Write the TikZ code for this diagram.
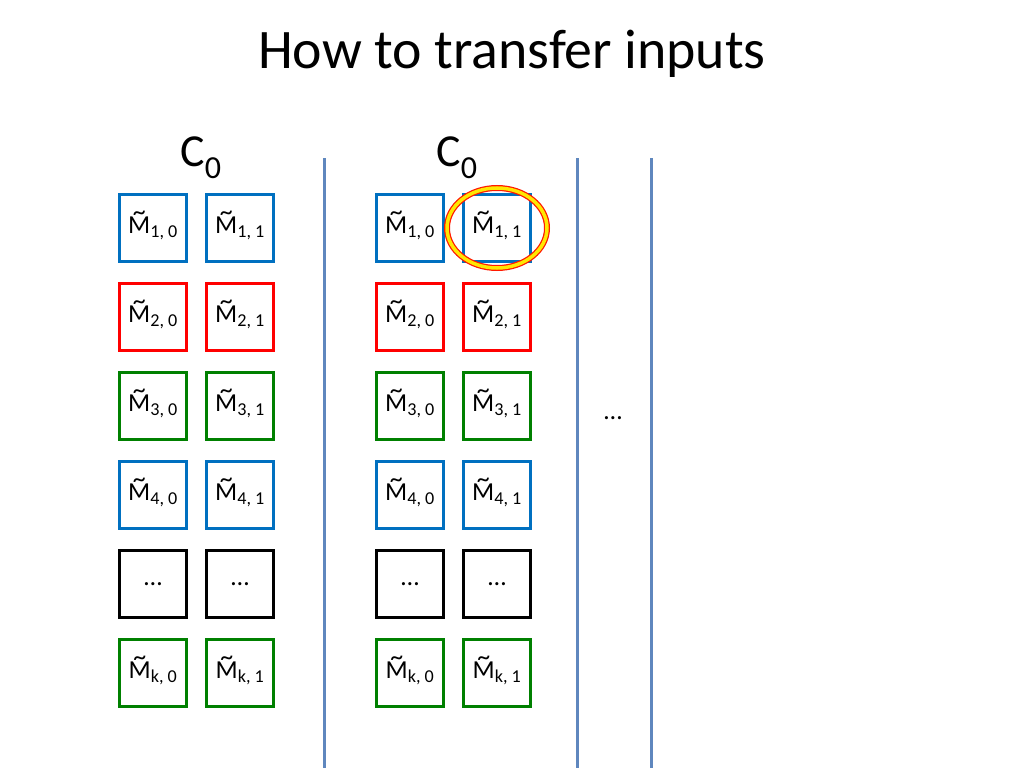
\documentclass[tikz,border=0pt]{standalone}
\usepackage{fontspec}
\setmainfont{Carlito}
\usepackage{xcolor}
\definecolor{boxblue}{RGB}{0,112,192}
\definecolor{boxgreen}{RGB}{0,128,0}
\definecolor{sepblue}{RGB}{95,135,190}
\newcommand{\tildeM}{\ooalign{M\cr\hidewidth\raisebox{0.5em}{\string~}\hidewidth}}
\newcommand{\mlab}[2]{\tildeM\textsubscript{#1, #2}}
\tikzset{
	mbox/.style  = {shape=rectangle, draw, line width=2.2bp,
		minimum size=67bp, inner sep=0pt, font=\fontsize{26}{30}\selectfont},
	bluebox/.style  = {mbox, draw=boxblue},
	redbox/.style   = {mbox, draw=red},
	greenbox/.style = {mbox, draw=boxgreen},
	blackbox/.style = {mbox, draw=black},
	sep/.style      = {draw=sepblue, line width=3bp},
	head/.style     = {font=\fontsize{46}{50}\selectfont}
}
\begin{document}
\begin{tikzpicture}[x=1bp, y=-1bp]
\useasboundingbox (0,0) rectangle (1024,768);
\node [font=\fontsize{56}{60}\selectfont] (title) at (512,54) {How to transfer inputs};
\node [head] (cleft) at (201,158) {C\textsubscript{0}};
\node [head] (cright) at (457,158) {C\textsubscript{0}};
% two copies of the share table
\foreach \g/\xa/\xb in {l/153/240, r/410/497} {
	\node [bluebox]  (\g10) at (\xa,228) {\raisebox{-4bp}{\mlab{1}{0}}};
	\node [bluebox]  (\g11) at (\xb,228) {\raisebox{-4bp}{\mlab{1}{1}}};
	\node [redbox]   (\g20) at (\xa,317) {\raisebox{-4bp}{\mlab{2}{0}}};
	\node [redbox]   (\g21) at (\xb,317) {\raisebox{-4bp}{\mlab{2}{1}}};
	\node [greenbox] (\g30) at (\xa,406) {\raisebox{-4bp}{\mlab{3}{0}}};
	\node [greenbox] (\g31) at (\xb,406) {\raisebox{-4bp}{\mlab{3}{1}}};
	\node [bluebox]  (\g40) at (\xa,495) {\raisebox{-4bp}{\mlab{4}{0}}};
	\node [bluebox]  (\g41) at (\xb,495) {\raisebox{-4bp}{\mlab{4}{1}}};
	\node [blackbox] (\g50) at (\xa,584) {\dots};
	\node [blackbox] (\g51) at (\xb,584) {\dots};
	\node [greenbox] (\g60) at (\xa,673) {\raisebox{-4bp}{\mlab{k}{0}}};
	\node [greenbox] (\g61) at (\xb,673) {\raisebox{-4bp}{\mlab{k}{1}}};
}
% separators
\coordinate (s1t) at (324,158); \coordinate (s1b) at (324,768);
\coordinate (s2t) at (577,158); \coordinate (s2b) at (577,768);
\coordinate (s3t) at (651,158); \coordinate (s3b) at (651,768);
\draw [sep] (s1t) -- (s1b);
\draw [sep] (s2t) -- (s2b);
\draw [sep] (s3t) -- (s3b);
\node [font=\fontsize{26}{30}\selectfont] (more) at (613,418) {\dots};
% highlight
\draw [red!80!orange, line width=6bp] (r11) ellipse [x radius=50, y radius=40];
\draw [yellow!90!orange, line width=3.5bp] (r11) ellipse [x radius=50, y radius=40];
\end{tikzpicture}
\end{document}
